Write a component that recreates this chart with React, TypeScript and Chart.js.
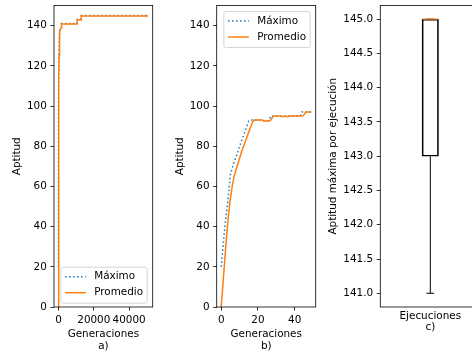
import React, { useEffect, useRef } from "react";
import { Chart, registerables } from "chart.js";

Chart.register(...registerables);

// ---------------- data ----------------
const seriesNames = ["Máximo", "Promedio"];

// panel a) : full run (generations)
const genA = [0, 49, 150, 300, 500, 700, 900, 1650, 1700, 10500, 10550, 12800, 12850, 50800];
const maximoA = [20, 97, 118, 128, 134, 138, 139, 139, 141, 141, 143, 143, 145, 145];
const promedioA = [0, 97, 115, 125, 132, 136, 138, 138.8, 140.8, 140.8, 142.8, 142.8, 144.8, 144.8];

// panel b) : first 50 generations
const genB = [
  0, 1, 2, 3, 4, 5, 6, 7, 8, 9, 10, 11, 12, 13, 14, 15, 16, 17, 18, 19, 20, 21, 22, 23, 24,
  25, 26, 27, 28, 29, 30, 31, 32, 33, 34, 35, 36, 37, 38, 39, 40, 41, 42, 43, 44, 45, 46, 47, 48, 49,
];
const maximoB = [
  20, 30, 40, 48, 56, 66, 69, 72, 74.5, 77, 80, 82.5, 85, 87.5, 90, 92.5, 93, 93, 93, 93, 93, 93, 93, 92.7, 92.5,
  92.5, 93, 95, 95, 95, 95, 95, 95, 95, 95, 95, 95, 95, 95, 95, 95, 95, 95, 95, 97, 97, 97, 97, 97, 97,
];
const promedioB = [
  0, 12, 24, 36, 46, 54, 60, 65, 68, 71, 74, 77, 79.5, 82, 84.5, 87, 89.5, 92, 93, 93, 93, 93, 93, 92.8, 92.5,
  92.5, 92.5, 93, 94.5, 95, 95, 95, 95, 94.8, 94.8, 94.8, 94.8, 94.8, 95, 95, 95, 95, 95, 95, 95, 95.5, 97, 97, 97, 97,
];

// panel c) : box plot of best fitness per run
const boxCategories = [""];
const boxWhiskerLow = [141];
const boxQ1 = [143];
const boxMedian = [145];
const boxQ3 = [145];
const boxWhiskerHigh = [145];

// ticks
const yTicksLine = [0, 20, 40, 60, 80, 100, 120, 140];
const xTicksA = [0, 20000, 40000];
const xTicksB = [0, 20, 40];
const yTicksBox = [141, 141.5, 142, 142.5, 143, 143.5, 144, 144.5, 145];

// ---------------- style ----------------
const FONT = '"DejaVu Sans", "Liberation Sans", sans-serif';
const FS = 10.4;
const CW = 490;
const CH = 352;
const BLUE = "#1f77b4";
const ORANGE = "#ff7f0e";
const TICK = 3.6;

const panelPlugin = {
  id: "panel",
  afterDatasetsDraw(chart: any, _args: any, opts: any) {
    const ctx = chart.ctx;
    const ca = chart.chartArea;
    // box whiskers / median
    if (opts && opts.box) {
      const ys = chart.scales.y;
      const meta = chart.getDatasetMeta(0);
      meta.data.forEach((bar: any, i: number) => {
        const cx = bar.x;
        const half = 7.7;
        const cap = half / 2;
        ctx.save();
        ctx.strokeStyle = "#000";
        ctx.lineWidth = 1;
        const yl = ys.getPixelForValue(boxWhiskerLow[i]);
        const yq1 = ys.getPixelForValue(boxQ1[i]);
        const yq3 = ys.getPixelForValue(boxQ3[i]);
        const yh = ys.getPixelForValue(boxWhiskerHigh[i]);
        ctx.beginPath();
        ctx.moveTo(cx, yq1);
        ctx.lineTo(cx, yl);
        ctx.moveTo(cx - cap, yl);
        ctx.lineTo(cx + cap, yl);
        ctx.moveTo(cx, yq3);
        ctx.lineTo(cx, yh);
        ctx.moveTo(cx - cap, yh);
        ctx.lineTo(cx + cap, yh);
        ctx.stroke();
        const ym = ys.getPixelForValue(boxMedian[i]);
        ctx.strokeStyle = ORANGE;
        ctx.beginPath();
        ctx.moveTo(cx - half, ym);
        ctx.lineTo(cx + half, ym);
        ctx.stroke();
        ctx.restore();
      });
    }
    // frame
    ctx.save();
    ctx.strokeStyle = "#000";
    ctx.lineWidth = 0.8;
    ctx.strokeRect(ca.left, ca.top, ca.right - ca.left, ca.bottom - ca.top);
    ctx.restore();
    // inner legend
    if (opts && opts.legend) {
      ctx.save();
      ctx.font = `${FS}px ${FONT}`;
      const items = chart.data.datasets.map((d: any) => ({
        label: d.label,
        color: d.borderColor,
        dash: d.borderDash || [],
      }));
      const tw = Math.max(...items.map((it: any) => ctx.measureText(it.label).width));
      const w = 4.2 + 20.8 + 8.3 + tw + 4.2;
      const h = 36;
      const x = ca.right - 5.5 - w;
      const y = opts.legend === "lower right" ? ca.bottom - 3.8 - h : ca.top + 6;
      const r = 2;
      ctx.beginPath();
      ctx.moveTo(x + r, y);
      ctx.lineTo(x + w - r, y);
      ctx.arcTo(x + w, y, x + w, y + r, r);
      ctx.lineTo(x + w, y + h - r);
      ctx.arcTo(x + w, y + h, x + w - r, y + h, r);
      ctx.lineTo(x + r, y + h);
      ctx.arcTo(x, y + h, x, y + h - r, r);
      ctx.lineTo(x, y + r);
      ctx.arcTo(x, y, x + r, y, r);
      ctx.closePath();
      ctx.fillStyle = "rgba(255,255,255,0.8)";
      ctx.fill();
      ctx.strokeStyle = "rgba(204,204,204,0.8)";
      ctx.lineWidth = 1;
      ctx.stroke();
      items.forEach((it: any, k: number) => {
        const cy = y + 9.5 + k * 16;
        ctx.strokeStyle = it.color;
        ctx.lineWidth = 1.5;
        ctx.setLineDash(it.dash);
        ctx.beginPath();
        ctx.moveTo(x + 4.2, cy);
        ctx.lineTo(x + 25, cy);
        ctx.stroke();
        ctx.setLineDash([]);
        ctx.fillStyle = "#000";
        ctx.textAlign = "left";
        ctx.textBaseline = "middle";
        ctx.fillText(it.label, x + 33.3, cy);
      });
      ctx.restore();
    }
  },
};

type Area = { left: number; right: number; top: number; bottom: number };

function yScale(area: Area, min: number, max: number, ticks: number[], title: string, titleX: number, fmt: (v: number) => string) {
  const lh = FS * 1.2;
  return {
    type: "linear",
    min,
    max,
    afterBuildTicks: (s: any) => {
      s.ticks = ticks.map((v) => ({ value: v }));
    },
    afterFit: (s: any) => {
      s.width = area.left;
      s.paddingTop = 0;
      s.paddingBottom = 0;
    },
    grid: { display: true, drawOnChartArea: false, drawTicks: true, tickLength: TICK, color: "#000", lineWidth: 0.8 },
    border: { display: false },
    ticks: { padding: TICK, color: "#000", font: { family: FONT, size: FS }, callback: (v: any) => fmt(Number(v)), autoSkip: false },
    title: {
      display: true,
      text: title,
      color: "#000",
      font: { family: FONT, size: FS, lineHeight: 1.2 },
      padding: { top: titleX - lh / 2, bottom: 0 },
    },
  };
}

function xTitle(lines: string[], firstCenter: number) {
  const lh = FS * 1.12;
  const pb = CH - firstCenter - lh / 2 - lh * (lines.length - 1);
  return {
    display: true,
    text: lines,
    color: "#000",
    font: { family: FONT, size: FS, lineHeight: 1.12 },
    padding: { top: 0, bottom: pb },
  };
}

function lineConfig(
  gens: number[],
  maxs: number[],
  avgs: number[],
  area: Area,
  xMin: number,
  xMax: number,
  xTicks: number[],
  panel: string,
  legendCorner: string,
  titleX: number
): any {
  return {
    type: "line",
    data: {
      datasets: [
        {
          label: seriesNames[0],
          data: gens.map((g, i) => ({ x: g, y: maxs[i] })),
          borderColor: BLUE,
          borderWidth: 1.5,
          borderDash: [1.5, 2.5],
          pointRadius: 0,
          fill: false,
          tension: 0,
          order: 1,
        },
        {
          label: seriesNames[1],
          data: gens.map((g, i) => ({ x: g, y: avgs[i] })),
          borderColor: ORANGE,
          borderWidth: 1.5,
          pointRadius: 0,
          fill: false,
          tension: 0,
          order: 0,
        },
      ],
    },
    options: {
      responsive: false,
      animation: false,
      events: [],
      layout: { padding: { left: 0, top: area.top, right: CW - area.right, bottom: 0 } },
      plugins: {
        legend: { display: false },
        tooltip: { enabled: false },
        panel: { legend: legendCorner, box: false },
      },
      scales: {
        x: {
          type: "linear",
          min: xMin,
          max: xMax,
          afterBuildTicks: (s: any) => {
            s.ticks = xTicks.map((v) => ({ value: v }));
          },
          afterFit: (s: any) => {
            s.height = CH - area.bottom;
            s.paddingLeft = 0;
            s.paddingRight = 0;
          },
          grid: { display: true, drawOnChartArea: false, drawTicks: true, tickLength: TICK, color: "#000", lineWidth: 0.8 },
          border: { display: false },
          ticks: {
            padding: TICK,
            color: "#000",
            font: { family: FONT, size: FS },
            maxRotation: 0,
            autoSkip: false,
            callback: (v: any) => String(v),
          },
          title: xTitle(["Generaciones", panel], 334.3),
        },
        y: yScale(area, 0, 150, yTicksLine, "Aptitud", titleX, (v) => String(v)),
      },
    },
    plugins: [panelPlugin],
  };
}

function boxConfig(area: Area): any {
  return {
    type: "bar",
    data: {
      labels: boxCategories,
      datasets: [
        {
          label: "Ejecuciones",
          data: boxCategories.map((_, i) => [boxQ1[i], boxQ3[i]]),
          backgroundColor: "rgba(255,255,255,0)",
          borderColor: "#000",
          borderWidth: 1,
          borderSkipped: false,
          barThickness: 16.4,
        },
      ],
    },
    options: {
      responsive: false,
      animation: false,
      events: [],
      layout: { padding: { left: 0, top: area.top, right: CW - area.right, bottom: 0 } },
      plugins: {
        legend: { display: false },
        tooltip: { enabled: false },
        panel: { legend: null, box: true },
      },
      scales: {
        x: {
          type: "category",
          offset: true,
          afterFit: (s: any) => {
            s.height = CH - area.bottom;
            s.paddingLeft = 0;
            s.paddingRight = 0;
          },
          grid: { display: false },
          border: { display: false },
          ticks: { display: false },
          title: xTitle(["Ejecuciones", "c)"], 316),
        },
        y: yScale(area, 140.8, 145.2, yTicksBox, "Aptitud máxima por ejecución", 333, (v) => v.toFixed(1)),
      },
    },
    plugins: [panelPlugin],
  };
}

function Panel({ config }: { config: () => any }) {
  const ref = useRef<HTMLCanvasElement | null>(null);
  useEffect(() => {
    if (!ref.current) return;
    const chart = new Chart(ref.current, config());
    return () => chart.destroy();
  }, [config]);
  return (
    <canvas
      ref={ref}
      width={CW}
      height={CH}
      style={{ position: "absolute", left: 0, top: 0, width: CW, height: CH }}
    />
  );
}

const areaA: Area = { left: 54, right: 152.7, top: 5.5, bottom: 307 };
const areaB: Area = { left: 216.7, right: 315.7, top: 5.5, bottom: 307 };
const areaC: Area = { left: 380.3, right: 480.3, top: 5.5, bottom: 307 };

const cfgA = () => lineConfig(genA, maximoA, promedioA, areaA, -2540, 53340, xTicksA, "a)", "lower right", 17);
const cfgB = () => lineConfig(genB, maximoB, promedioB, areaB, -2.45, 51.45, xTicksB, "b)", "upper right", 180);
const cfgC = () => boxConfig(areaC);

export default function App() {
  return (
    <div
      style={{
        position: "fixed",
        left: 0,
        top: 0,
        width: 472,
        height: 352,
        overflow: "hidden",
        background: "#fff",
      }}
    >
      <Panel config={cfgA} />
      <Panel config={cfgB} />
      <Panel config={cfgC} />
    </div>
  );
}
